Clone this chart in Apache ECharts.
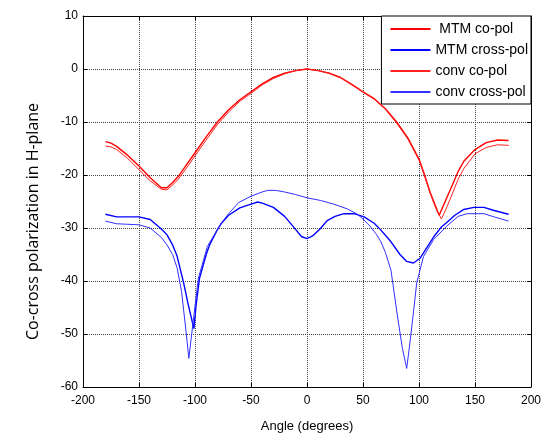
<!DOCTYPE html>
<html>
<head>
<meta charset="utf-8">
<script src="https://cdn.jsdelivr.net/npm/echarts@6/dist/echarts.min.js"></script>
<style>
    html, body { margin: 0; padding: 0; background: #fff; }
    #chart { width: 555px; height: 438px; }
</style>
</head>
<body>
<div id="chart"></div>
<script>
// angle values (degrees) and levels (dB)
let mtmCoAngle = [-180,-175,-170,-160,-150,-140,-130,-125,-120,-115,-110,-100,-90,-80,-70,-60,-50,-40,-30,-20,-10,0,10,20,30,40,50,60,70,80,90,100,105,110,115,118,125,130,135,140,150,160,170,180];
let mtmCoValue = [-13.7,-14.0,-14.6,-16.3,-18.3,-20.5,-22.4,-22.4,-21.4,-20.3,-18.8,-15.8,-12.8,-10.0,-7.7,-5.8,-4.3,-2.8,-1.6,-0.8,-0.3,0,-0.3,-0.8,-1.6,-2.9,-4.3,-5.6,-7.5,-10.0,-13.0,-17.0,-20.0,-23.3,-26.0,-27.6,-24.2,-21.8,-19.3,-17.4,-15.2,-13.9,-13.4,-13.5];

let mtmXAngle = [-180,-170,-160,-150,-140,-130,-125,-120,-116,-110,-106,-101,-99,-96,-90,-87,-80,-76,-70,-60,-50,-44,-40,-30,-20,-10,-5,0,5,12,18,25,33,42,51,60,66,75,83,89,95,101,107,113,120,125,132,140,149,158,167,180];
let mtmXValue = [-27.4,-27.9,-27.9,-27.9,-28.4,-30.2,-31.3,-33.2,-35.3,-40.5,-44.5,-49.0,-44.5,-39.5,-35.0,-33.2,-30.3,-29.0,-27.6,-26.2,-25.5,-25.1,-25.3,-26.1,-27.8,-30.3,-31.6,-32.0,-31.5,-30.1,-28.6,-27.8,-27.3,-27.3,-27.9,-29.1,-30.4,-32.6,-35.0,-36.3,-36.6,-35.7,-33.7,-31.7,-29.8,-28.9,-27.6,-26.5,-26.1,-26.1,-26.7,-27.4];

let convCoAngle = [-180,-175,-170,-160,-150,-140,-130,-125,-120,-115,-110,-100,-90,-80,-70,-60,-50,-40,-30,-20,-10,0,10,20,30,40,50,60,70,80,90,100,105,110,115,120,125,130,135,140,150,160,170,180];
let convCoValue = [-14.5,-14.7,-15.2,-16.9,-19.0,-21.1,-22.7,-22.8,-21.9,-20.8,-19.4,-16.4,-13.4,-10.5,-8.1,-6.1,-4.6,-3.0,-1.8,-0.9,-0.3,0,-0.3,-0.8,-1.7,-3.0,-4.4,-5.7,-7.6,-10.2,-13.2,-17.2,-20.2,-23.5,-26.3,-28.3,-26.0,-23.4,-20.8,-18.8,-16.0,-14.8,-14.3,-14.4];

let convXAngle = [-180,-170,-160,-150,-140,-130,-125,-120,-116,-112,-108,-105.5,-103.5,-101,-97,-89,-77,-70,-61,-50,-40,-35,-28,-20,-10,0,12,24,36,45,50,56,62,66,70,75,80,85,89,92,95,98,104,113,125,135,143,158,167,180];
let convXValue = [-28.7,-29.2,-29.3,-29.4,-30.0,-31.8,-33.2,-35.0,-37.5,-42.0,-49.5,-54.6,-51.0,-46.5,-39.5,-33.5,-29.2,-27.3,-25.2,-24.0,-23.2,-22.9,-22.9,-23.2,-23.7,-24.3,-24.8,-25.5,-26.4,-27.4,-28.3,-29.6,-31.2,-32.6,-34.6,-38.0,-45.5,-52.5,-56.5,-51.5,-46.0,-40.3,-35.4,-32.2,-29.6,-27.8,-27.3,-27.3,-27.9,-28.7];

let seriesNames = [' MTM co-pol', 'MTM cross-pol', 'conv co-pol', 'conv cross-pol'];
let xTicks = [-200, 200, 50];   // min, max, step
let yTicks = [-60, 10, 10];

function pairs(a, v) {
    return a.map(function (x, i) { return [x, v[i]]; });
}

let myChart = echarts.init(document.getElementById('chart'), null, { renderer: 'canvas' });

let tickFont = { color: '#000', fontSize: 12, fontFamily: 'Liberation Sans, Arial, sans-serif' };
let gridLine = { show: true, lineStyle: { color: '#444', type: [1, 1], width: 1 } };

function boxAxis(pos, ticks) {
    // plain axis on the top / right side, only for the frame and inner ticks
    return {
        type: 'value',
        min: ticks[0], max: ticks[1], interval: ticks[2],
        position: pos,
        axisLine: { show: true, onZero: false, lineStyle: { color: '#000', width: 1 } },
        axisTick: { show: true, inside: true, length: 4, lineStyle: { color: '#000' } },
        axisLabel: { show: false },
        splitLine: { show: false }
    };
}

let option = {
    backgroundColor: '#fff',
    animation: false,
    grid: { left: 83, top: 16, right: 24, bottom: 46, show: false },
    legend: {
        orient: 'vertical',
        right: 24,
        top: 16,
        data: seriesNames,
        itemWidth: 40,
        itemHeight: 14,
        itemGap: 7,
        padding: [6, 3, 5, 8],
        borderColor: '#000',
        borderWidth: 1,
        backgroundColor: '#fff',
        itemStyle: { opacity: 0 },
        textStyle: { color: '#000', fontSize: 14, fontFamily: 'Liberation Sans, Arial, sans-serif' }
    },
    xAxis: [{
        type: 'value',
        min: xTicks[0], max: xTicks[1], interval: xTicks[2],
        position: 'bottom',
        name: 'Angle (degrees)',
        nameLocation: 'middle',
        nameGap: 33,
        nameTextStyle: { color: '#000', fontSize: 13, fontFamily: 'Liberation Sans, Arial, sans-serif' },
        axisLine: { show: true, onZero: false, lineStyle: { color: '#000', width: 1 } },
        axisTick: { show: true, inside: true, length: 4, lineStyle: { color: '#000' } },
        axisLabel: Object.assign({ margin: 8 }, tickFont),
        splitLine: gridLine
    }, boxAxis('top', xTicks)],
    yAxis: [{
        type: 'value',
        min: yTicks[0], max: yTicks[1], interval: yTicks[2],
        position: 'left',
        name: 'Co-cross polarization in H-plane',
        nameLocation: 'middle',
        nameGap: 42,
        nameRotate: 90,
        nameTextStyle: { color: '#000', fontSize: 16, fontFamily: 'Open Sans, sans-serif', padding: [0, 40, 0, 0] },
        axisLine: { show: true, onZero: false, lineStyle: { color: '#000', width: 1 } },
        axisTick: { show: true, inside: true, length: 4, lineStyle: { color: '#000' } },
        axisLabel: Object.assign({ margin: 5 }, tickFont),
        splitLine: gridLine
    }, boxAxis('right', yTicks)],
    series: [
        {
            name: seriesNames[0], type: 'line', showSymbol: false, symbol: 'none',
            data: pairs(mtmCoAngle, mtmCoValue),
            itemStyle: { color: '#ff0000' },
            lineStyle: { color: '#ff0000', width: 1.4 }
        },
        {
            name: seriesNames[1], type: 'line', showSymbol: false, symbol: 'none',
            data: pairs(mtmXAngle, mtmXValue),
            itemStyle: { color: '#0000ff' },
            lineStyle: { color: '#0000ff', width: 1.4 }
        },
        {
            name: seriesNames[2], type: 'line', showSymbol: false, symbol: 'none',
            data: pairs(convCoAngle, convCoValue),
            itemStyle: { color: '#ff2020' },
            lineStyle: { color: '#ff2020', width: 1 }
        },
        {
            name: seriesNames[3], type: 'line', showSymbol: false, symbol: 'none',
            data: pairs(convXAngle, convXValue),
            itemStyle: { color: '#3030ff' },
            lineStyle: { color: '#3030ff', width: 1 }
        }
    ]
};
myChart.setOption(option);
</script>
</body>
</html>
